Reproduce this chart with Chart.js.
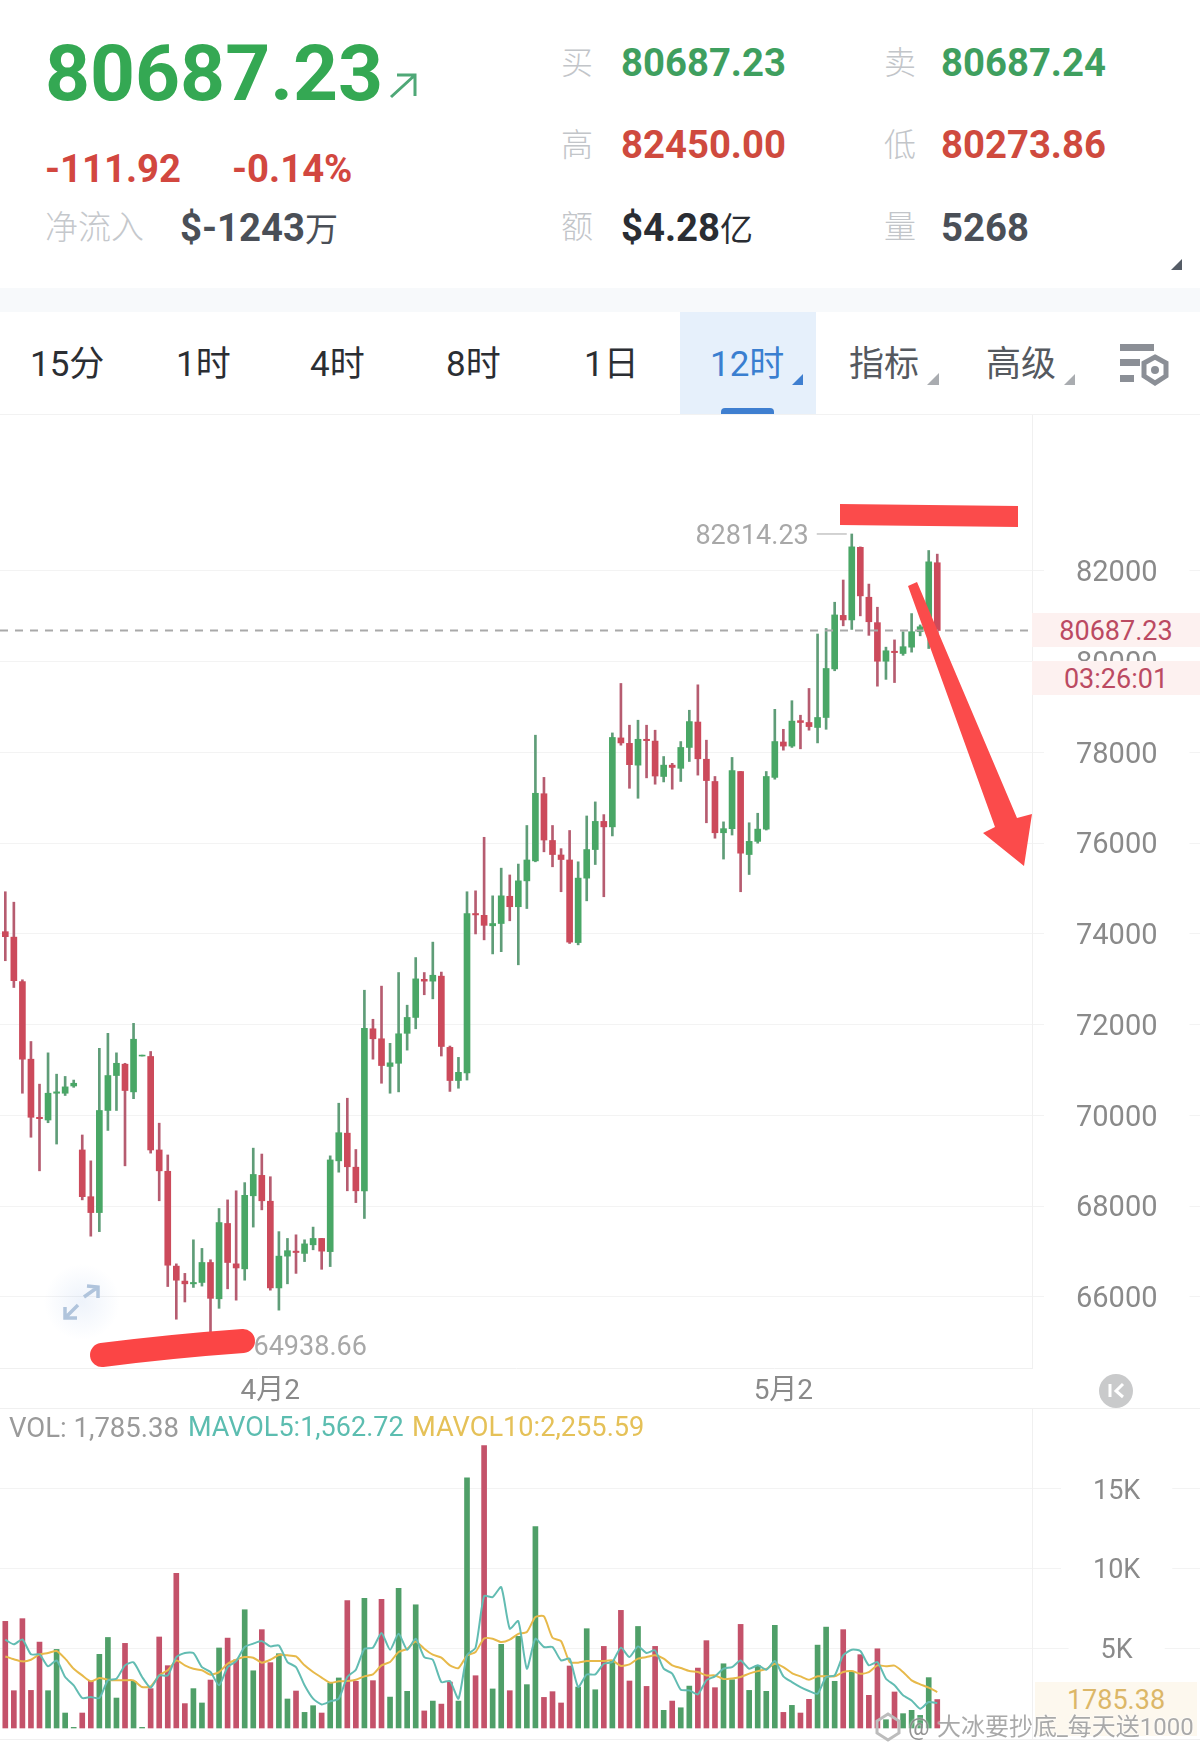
<!DOCTYPE html>
<html><head><meta charset="utf-8">
<script src="https://cdn.jsdelivr.net/npm/chart.js@4"></script>
<style>
html,body{margin:0;padding:0;background:#fff}
#page{position:relative;width:1200px;height:1752px;overflow:hidden;background:#fff;font-family:Roboto,"Noto Sans CJK SC",sans-serif}
#page>span,.t{position:absolute;line-height:1;white-space:nowrap}
.lab{font-size:32px;color:#c2c5c9;font-weight:300}
.val{font-size:38.3px;font-weight:700}
.tab{font-size:35px;color:#2b2e33;top:347px}
.tag{position:absolute;left:1032px;width:168px;text-align:center;font-size:27px;line-height:36px;height:34px;background:#fdf1f0;color:#bb4a62}
.bgbox{position:absolute}
canvas{position:absolute;left:0}
svg{position:absolute;left:0;top:0;pointer-events:none}
</style></head><body>
<div id="page">
<div class="bgbox" style="left:0;top:288px;width:1200px;height:24px;background:#f7f9fb"></div>
<div class="bgbox" style="left:680px;top:312px;width:136px;height:102px;background:#e6f0fb"></div>
<div class="bgbox" style="left:721px;top:408px;width:53px;height:6px;border-radius:4px 4px 0 0;background:#3f7fd0"></div>

<span style="left:45px;top:34px;font-size:78.5px;font-weight:700;color:#34a853">80687.23</span>
<span style="left:45px;top:150px;font-size:38.3px;font-weight:700;color:#d2473f">-111.92</span>
<span style="left:232px;top:150px;font-size:38.3px;font-weight:700;color:#d2473f">-0.14%</span>
<span style="left:45px;top:211px;font-size:33px;font-weight:300;color:#c5c8cc">净流入</span>
<span style="left:180px;top:209px;font-size:38.3px;font-weight:700;color:#4a4f57">$-1243<span style="font-size:33px;font-weight:400">万</span></span>

<span class="lab" style="left:561px;top:47px">买</span>
<span class="val" style="left:621px;top:44px;color:#3f9f5f">80687.23</span>
<span class="lab" style="left:884px;top:47px">卖</span>
<span class="val" style="left:941px;top:44px;color:#3f9f5f">80687.24</span>
<span class="lab" style="left:561px;top:129px">高</span>
<span class="val" style="left:621px;top:126px;color:#cf4a3e">82450.00</span>
<span class="lab" style="left:884px;top:129px">低</span>
<span class="val" style="left:941px;top:126px;color:#cf4a3e">80273.86</span>
<span class="lab" style="left:561px;top:211px">额</span>
<span class="val" style="left:621px;top:209px;color:#2a2d33">$4.28<span style="font-size:33px;font-weight:400">亿</span></span>
<span class="lab" style="left:884px;top:211px">量</span>
<span class="val" style="left:941px;top:209px;color:#4a4f57">5268</span>

<span class="tab" style="left:30px">15分</span>
<span class="tab" style="left:176px">1时</span>
<span class="tab" style="left:310px">4时</span>
<span class="tab" style="left:446px">8时</span>
<span class="tab" style="left:584px">1日</span>
<span class="tab" style="left:710px;color:#3a7fd0">12时</span>
<span class="tab" style="left:849px;color:#55595f">指标</span>
<span class="tab" style="left:986px;color:#55595f">高级</span>

<canvas id="priceChart" width="1200" height="993" style="top:415px"></canvas>
<canvas id="volChart" width="1200" height="331" style="top:1408px"></canvas>

<div class="bgbox" style="left:0;top:414px;width:1200px;height:1px;background:#f2f2f2"></div>
<div class="bgbox" style="left:0;top:1408px;width:1200px;height:1px;background:#f0f0f0"></div>
<div class="bgbox" style="left:0;top:1739px;width:1200px;height:1px;background:#f0f0f0"></div>

<span style="left:9px;top:1414px;font-size:27.5px;color:#9a9a9a">VOL: 1,785.38</span>
<span style="left:188px;top:1414px;font-size:27px;color:#5cbdb0">MAVOL5:1,562.72</span>
<span style="left:412px;top:1414px;font-size:27.2px;color:#e5c158">MAVOL10:2,255.59</span>

<div class="tag" style="top:613px">80687.23</div>
<div class="tag" style="top:661px">03:26:01</div>
<div class="tag" style="top:1682px;left:1035px;width:162px;height:54px;line-height:37px;background:#fdf8ee;color:#dcb768">1785.38</div>

<svg width="1200" height="1752" viewBox="0 0 1200 1752">
  <defs><radialGradient id="glow"><stop offset="0" stop-color="#eef3fb"/><stop offset="1" stop-color="#ffffff"/></radialGradient></defs>
  <path d="M391 97 L415 75 M397 75 L415 75 L415 96" fill="none" stroke="#4fa877" stroke-width="3"/>
  <polygon points="1171,270 1182,270 1182,259" fill="#555c66"/>
  <polygon points="792,385 803,385 803,374" fill="#3f7fd0"/>
  <polygon points="927,385 939,385 939,373" fill="#a9acb0"/>
  <polygon points="1064,385 1075,385 1075,374" fill="#a9acb0"/>
  <g fill="#8b8f96">
    <rect x="1120" y="344" width="34" height="7"/>
    <rect x="1120" y="359" width="20" height="7"/>
    <rect x="1120" y="375" width="14" height="7"/>
  </g>
  <polygon points="1155,357 1166,363 1166,376 1155,383 1144,376 1144,363" fill="none" stroke="#8b8f96" stroke-width="5"/>
  <circle cx="1155" cy="370" r="4" fill="#8b8f96"/>
  <circle cx="82" cy="1302" r="38" fill="url(#glow)" style="mix-blend-mode:multiply"/>
  <path d="M84 1297 L98 1287 M87 1286 L98 1287 L98 1298 M78 1305 L65 1318 M65 1307 L65 1318 L77 1318" fill="none" stroke="#b0c4dc" stroke-width="3.5"/>
  <circle cx="1116" cy="1391" r="17" fill="#c9cacb"/>
  <path d="M1110 1384 V1397 M1123 1384 L1116 1391 L1123 1397" fill="none" stroke="#fff" stroke-width="3"/>
  <path d="M102 1355 Q173 1346 243 1341" fill="none" stroke="#fb4545" stroke-width="24" stroke-linecap="round"/>
  <polygon points="840,504 1018,506 1018,527 840,525" fill="#fb4b4b"/>
  <polygon points="908,586 917,582 1017,818 1032,814 1024,866 983,833 995,827" fill="#fb4b4b"/>
</svg>

<span style="left:937px;top:1715px;font-size:24px;color:rgba(140,140,140,.75);text-shadow:0 0 2px #fff,0 0 2px #fff">大冰要抄底_每天送1000</span>
<span style="left:908px;top:1715px;font-size:24px;color:rgba(120,120,120,.8);text-shadow:0 0 2px #fff">@</span>
<svg width="1200" height="1752" viewBox="0 0 1200 1752"><polygon points="888,1714 899,1721 899,1733 888,1740 877,1733 877,1721" fill="none" stroke="#bcbcbc" stroke-width="3"/></svg>
</div>

<script>
const opens = [
74050,73930,72950,71240,69960,69900,70490,70490,70650,69240,
68210,67860,70110,70880,71130,70520,71310,71300,69240,68770,
66680,66350,66290,66320,66760,65960,67620,66730,66620,68230,
68680,68110,66200,66900,67010,66960,67150,67290,67000,69000,
69610,68860,68340,71910,71690,71080,71150,71810,72160,73000,
72960,73070,71500,70770,70940,74450,74410,74180,74230,74830,
74600,75170,75610,77090,76060,75740,75630,73810,75230,75860,
76480,76360,78320,78200,77720,78290,78250,77470,77720,77650,
78110,78670,77850,77360,76230,76320,77580,75750,76040,76310,
77450,78230,78140,78700,78660,78550,78770,79840,81020,80920,
82520,81420,80860,80010,80230,80180,80320,80660,80730,82180];
const highs = [
74930,74700,72990,71630,70690,71380,70910,70860,70780,69570,
69000,71480,71810,71380,71150,72030,71330,71410,69830,69130,
66730,66520,67260,67070,66820,67950,68140,68340,68520,69280,
69150,68650,67440,67290,67370,67260,67540,67290,69110,70270,
70380,69250,72760,72120,72850,71590,73150,72430,73480,73150,
73820,73160,71530,71280,74930,74950,76130,74840,75450,75300,
75540,76390,78380,77450,76390,75880,76280,75590,76600,76910,
76630,78430,79520,78600,78710,78600,78490,77910,77760,78240,
78930,79490,78270,77470,76470,77890,77580,76450,76660,77580,
78950,78510,79140,78820,79410,80610,80730,81310,81800,82814.23,
82530,81710,81200,80320,80480,80660,81060,80810,82450,82370];
const lows = [
73410,72820,70490,69520,68780,69840,69370,70440,70620,68140,
67340,67440,69670,70110,68890,70370,71310,69170,68120,66230,
65510,65890,66210,66240,64938.66,65750,66180,65930,66370,67540,
67920,66150,65710,66290,66520,66780,67040,66610,66670,68750,
68340,68080,67730,71240,70710,70490,70520,71440,71910,72660,
72570,71310,70530,70600,70780,74000,73870,73560,73610,74290,
73320,74560,75590,75810,75480,74930,73790,73760,74730,75530,
74820,76160,78160,77210,76990,77440,77300,77350,77190,77360,
77800,77500,76450,76110,75650,76180,74930,75310,76000,76290,
77410,78050,78110,78080,78490,78210,78510,79800,80790,80710,
81010,80580,79460,79610,79540,80140,80210,80570,80290,80273.86];
const closes = [
73940,72970,71240,69960,69930,70490,70520,70630,70710,68210,
67860,70110,70880,71150,70550,71680,71330,69240,68780,66700,
66370,66290,66320,66760,65970,67640,66760,66640,68240,68700,
68120,66200,66900,67020,66980,67170,67290,67010,69020,69620,
68870,68340,71920,71690,71100,71160,71800,72160,73010,72960,
73090,71520,70770,70950,74450,74420,74190,74230,74840,74600,
75170,75630,77100,76070,75750,75640,73820,75230,75860,76480,
76360,78330,78210,77730,78290,78260,77480,77720,77670,78110,
78680,77860,77380,76230,76320,77600,75780,76040,76310,77470,
78240,78140,78690,78660,78570,78770,79850,81030,80920,82530,
81450,80880,80010,80240,80200,80330,80660,80770,82200,80687.23];
const volumes = [
6690,2340,6860,2360,5390,2340,4930,940,40,940,
2930,4620,5680,1880,5310,2930,40,2470,5710,3910,
9700,1530,2470,1570,3010,5020,5640,4280,7420,3590,
6170,4100,4660,1820,2320,980,1400,940,2820,3140,
8000,2930,8130,2970,8070,1940,8760,2300,7730,1070,
1690,1500,2880,1690,15700,3280,17720,2450,5250,2340,
5750,2720,12640,1920,2280,1570,3890,2570,6230,2400,
5120,4240,7380,2950,6370,2610,5120,1110,1690,1270,
2630,3760,5480,2530,4030,3030,6500,2360,3930,2300,
6440,980,1420,940,1800,5200,6330,2930,6170,3510,
4600,2050,4970,520,2260,900,1110,790,3160,1785.38];
const mavol5 = [
5540,5250,5560,4620,4620,3870,4240,3200,2680,1880,
1940,1880,2990,3090,3930,4120,3200,2530,3300,3300,
4450,4700,4700,3820,3510,2680,3820,4200,5080,5290,
5450,5120,5180,4140,3820,2680,1840,1480,1670,1840,
3200,3660,4970,5040,5960,4910,5910,4910,5600,4450,
4280,2880,2950,1840,4560,5040,8280,8210,8840,6230,
6710,3720,5600,5080,5080,4240,4350,2570,3360,3360,
4030,4140,5040,4450,5120,4700,4870,3720,3410,2400,
2360,2110,2990,3240,3720,3820,4240,3720,3930,3660,
4200,3240,2880,2570,2320,2150,3200,3300,4560,4910,
4830,3930,4140,3090,2680,2050,1730,1210,1630,1562.72];
const mavol10 = [
4490,4310,4180,4280,4620,4700,4830,4350,3720,3300,
2930,3140,3030,2990,2990,2990,2570,2610,3300,3620,
4240,3930,3720,3620,3340,3510,4030,4280,4450,4410,
4100,4280,4580,4560,4490,3930,3510,3160,2840,2930,
2950,3030,3240,3360,3930,4140,4770,4970,5430,4970,
4600,4410,3930,3760,4540,4770,5620,5600,5390,5540,
5910,6020,6960,7000,5660,5450,4140,4100,4200,4200,
4200,4240,3890,3990,4350,4450,4560,4350,3930,3760,
3570,3510,3300,3300,3070,3110,3200,3410,3570,3700,
4030,3820,3450,3240,3030,3240,3240,3240,3510,3570,
3410,3510,3930,3870,3910,3510,2990,2740,2530,2255.59];
const priceTicks = [66000,68000,70000,72000,74000,76000,78000,80000,82000];
const volumeTicks = [5000,10000,15000];
const dateTicks = [31,91];
const dateLabels = ['4月2','5月2'];
const lastPrice = 80687.23;

const idx = closes.map((_, i) => i);
const isUp = i => closes[i] >= opens[i];
const BODY_UP='#49a766', BODY_DN='#cc4a5b', WICK_UP='#5f9d78', WICK_DN='#b65c70';
const VOL_UP='#4f9f68', VOL_DN='#c4526a';
const GRID='#f3f3f3', AXIS='#8a8a8a';
const X_MIN=-0.62, X_MAX=120.08, AXIS_W=168;
Chart.defaults.font.family='Roboto,"Noto Sans CJK SC",sans-serif';
Chart.defaults.animation=false;

const colorAt = (up, dn) => c => isUp(c.dataIndex) ? up : dn;

const extremeLabels = {
  id:'extremeLabels',
  afterDatasetsDraw(chart){
    const {ctx, scales:{x,y}} = chart;
    const hi = highs.indexOf(Math.max(...highs)), lo = lows.indexOf(Math.min(...lows));
    ctx.save();
    ctx.font='27px Roboto'; ctx.fillStyle='#a8a8a8'; ctx.strokeStyle='#c4c4c4'; ctx.lineWidth=1.5;
    ctx.textBaseline='middle';
    let px=x.getPixelForValue(hi), py=y.getPixelForValue(highs[hi]);
    ctx.beginPath(); ctx.moveTo(px-5,py); ctx.lineTo(px-35,py); ctx.stroke();
    ctx.textAlign='right'; ctx.fillText(highs[hi].toFixed(2),px-43,py+3);
    px=x.getPixelForValue(lo); py=y.getPixelForValue(lows[lo]);
    ctx.textAlign='left'; ctx.fillText(lows[lo].toFixed(2),px+43,py+3);
    ctx.restore();
  }
};

const yAxis = (ticksArr, pad, size, cb, min, max) => ({
  type:'linear', position:'right', min, max,
  afterFit:s=>{s.width=AXIS_W},
  afterBuildTicks:s=>{s.ticks=ticksArr.map(v=>({value:v}))},
  grid:{color:GRID,tickColor:GRID,tickLength:AXIS_W,lineWidth:1},
  border:{color:'#f0f0f0',width:1},
  ticks:{autoSkip:false,color:AXIS,font:{size},crossAlign:'center',padding:pad-AXIS_W,labelOffset:3,callback:cb,
    showLabelBackdrop:true,backdropColor:'#fff',backdropPadding:{x:32,y:1}}
});

new Chart(document.getElementById('priceChart'),{
  type:'bar',
  data:{datasets:[
    {type:'line',data:[{x:X_MIN,y:lastPrice},{x:X_MAX,y:lastPrice}],borderColor:'#a9a9a9',borderWidth:2,borderDash:[8,7],pointRadius:0,order:0},
    {label:'body',data:idx.map(i=>({x:i,y:[opens[i],closes[i]]})),backgroundColor:colorAt(BODY_UP,BODY_DN),barThickness:6,grouped:false,order:1},
    {label:'wick',data:idx.map(i=>({x:i,y:[lows[i],highs[i]]})),backgroundColor:colorAt(WICK_UP,WICK_DN),barThickness:2,grouped:false,order:2}
  ]},
  options:{
    responsive:false,devicePixelRatio:1,
    plugins:{legend:{display:false},tooltip:{enabled:false}},
    layout:{padding:0},
    scales:{
      x:{type:'linear',offset:false,min:X_MIN,max:X_MAX,
        afterFit:s=>{s.height=40},
        afterBuildTicks:s=>{s.ticks=dateTicks.map(v=>({value:v}))},
        grid:{display:false,drawTicks:false},
        border:{color:'#f0f0f0',width:1},
        ticks:{autoSkip:false,maxRotation:0,color:AXIS,font:{size:28},padding:7,
          callback:v=>dateLabels[dateTicks.indexOf(v)]}},
      y:yAxis(priceTicks,44,29,v=>String(v),64435,85436)
    }
  },
  plugins:[extremeLabels]
});

new Chart(document.getElementById('volChart'),{
  type:'bar',
  data:{datasets:[
    {type:'line',data:idx.map(i=>({x:i,y:mavol5[i]})),borderColor:'#62bcb2',borderWidth:2,pointRadius:0,tension:0.2,order:0},
    {type:'line',data:idx.map(i=>({x:i,y:mavol10[i]})),borderColor:'#e7b94a',borderWidth:2,pointRadius:0,tension:0.2,order:0},
    {label:'VOL',data:idx.map(i=>({x:i,y:volumes[i]})),backgroundColor:colorAt(VOL_UP,VOL_DN),barThickness:5,grouped:false,order:1}
  ]},
  options:{
    responsive:false,devicePixelRatio:1,
    plugins:{legend:{display:false},tooltip:{enabled:false}},
    layout:{padding:0},
    scales:{
      x:{type:'linear',offset:false,display:true,min:X_MIN,max:X_MAX,afterFit:s=>{s.height=0},
        grid:{display:false,drawTicks:false},border:{display:false},ticks:{display:false}},
      y:yAxis(volumeTicks,61,27,v=>(v/1000)+'K',-690,20075)
    }
  }
});
</script>
</body></html>
